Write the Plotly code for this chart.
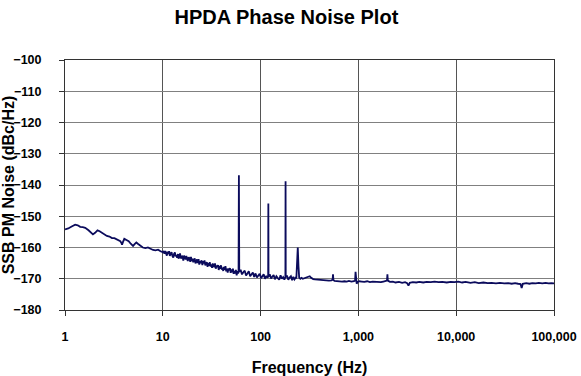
import plotly.graph_objects as go

# Frequency (Hz) and SSB phase noise (dBc/Hz)
freq_low = [1.0, 1.08, 1.17, 1.27, 1.35, 1.43, 1.52, 1.61, 1.74, 1.84, 1.93, 2.03, 2.15, 2.26,
            2.38, 2.52, 2.68, 2.85, 3.02, 3.2, 3.4, 3.55, 3.68, 3.78, 3.83, 3.92, 4.04, 4.25,
            4.48, 4.7, 4.96, 5.15, 5.36, 5.6, 5.89, 6.25, 6.64, 7.05, 7.49, 7.95, 8.42, 8.95,
            9.47, 10.0]
noise_low = [-154.2, -153.9, -153.3, -152.7, -152.9, -153.4, -153.5, -153.7, -154.5, -155.2,
             -155.8, -155.3, -154.5, -154.8, -155.2, -155.6, -156.3, -156.5, -157.0, -157.0,
             -157.4, -157.7, -158.0, -158.6, -159.1, -158.2, -157.2, -157.6, -158.0, -158.8,
             -159.5, -158.9, -158.4, -158.9, -159.5, -160.0, -160.2, -160.0, -160.4, -160.8,
             -160.9, -160.7, -161.2, -161.5]

freq_mid = [10.2, 10.4, 10.6, 10.8, 11.0, 11.2, 11.4, 11.6, 11.8, 12.0, 12.3, 12.5, 12.8, 13.0,
            13.3, 13.5, 13.8, 14.0, 14.3, 14.5, 14.8, 15.0, 15.3, 15.6, 15.9, 16.2, 16.5, 16.8,
            17.1, 17.4, 17.7, 18.0, 18.4, 18.7, 19.1, 19.4, 19.8, 20.1, 20.5, 20.8, 21.2, 21.6,
            22.0, 22.4, 22.8, 23.2, 23.6, 24.0, 24.5, 24.9, 25.4, 25.8, 26.3, 26.7, 27.2, 27.7,
            28.2, 28.7, 29.2, 29.7, 30.2, 30.8, 31.3, 31.9, 32.4, 33.0, 33.6, 34.2, 34.8, 35.4,
            36.0, 36.7, 37.3, 38.0, 38.7, 39.4, 40.1, 40.8, 41.5, 42.2, 43.0, 43.7, 44.5, 45.3,
            46.1, 46.9, 47.7, 48.6, 49.4, 50.3, 51.2, 52.1, 53.0, 54.0, 54.9, 55.9, 56.9, 57.9,
            58.9, 59.5]
noise_mid = [-161.1, -162.0, -161.1, -161.8, -162.6, -161.3, -162.1, -161.2, -162.7, -162.0,
             -161.5, -162.6, -163.2, -162.1, -161.6, -162.8, -162.4, -163.3, -162.1, -163.6,
             -162.5, -161.9, -163.5, -163.2, -162.6, -164.2, -162.6, -163.2, -163.8, -162.7,
             -163.7, -164.3, -163.1, -163.4, -164.6, -163.0, -164.3, -163.6, -164.7, -163.9,
             -163.5, -165.1, -164.4, -163.8, -165.0, -163.7, -165.5, -164.4, -165.0, -164.1,
             -165.6, -164.4, -165.1, -164.1, -165.7, -165.2, -164.7, -166.2, -165.0, -165.8,
             -164.7, -166.1, -165.4, -166.5, -165.1, -165.8, -166.3, -165.1, -166.8, -165.7,
             -166.3, -165.6, -167.2, -165.9, -166.8, -165.7, -167.1, -166.5, -167.5, -166.2,
             -167.1, -166.0, -167.6, -166.8, -168.0, -166.7, -167.3, -166.6, -168.1, -167.0,
             -167.9, -166.8, -168.4, -167.5, -168.3, -167.2, -168.9, -167.6, -168.3, -167.8]

freq_spur = [60.0, 60.5, 62.5, 64.5, 66.6, 68.8, 71.0, 73.3, 75.7, 78.2, 80.7, 83.3, 86.0, 88.8,
             91.7, 94.7, 97.8, 101, 104, 107.5, 111, 114.5, 118, 119.5, 120, 120.5, 124, 128,
             132, 136, 140, 145, 150, 155, 160, 165, 170, 175, 179.3, 180, 180.7, 186, 192,
             198, 204, 210, 216, 222, 228, 232, 236, 240, 244, 248, 255, 262, 270, 280, 290,
             300, 310, 318, 326, 335, 345, 360, 380, 400, 420, 445, 470, 500, 530, 545, 550,
             555, 570, 600, 640, 680, 720, 760, 800, 850, 900, 925, 935, 945, 960, 980]
noise_spur = [-136.9, -167.8, -167.1, -168.6, -167.9, -167.4, -169.0, -168.2, -167.6, -169.2,
              -168.5, -168.0, -169.4, -168.3, -169.6, -168.9, -168.4, -169.8, -169.0, -168.6,
              -170.0, -169.1, -169.7, -169.2, -145.9, -169.3, -168.6, -169.9, -169.3, -168.8,
              -170.2, -169.2, -169.8, -170.3, -168.9, -170.0, -169.5, -170.3, -169.4, -138.8,
              -169.5, -169.0, -170.3, -169.6, -169.2, -170.5, -169.4, -170.2, -169.7, -169.9,
              -166.0, -160.0, -166.0, -169.6, -170.0, -169.7, -170.0, -169.8, -169.7, -169.6,
              -169.3, -169.2, -169.6, -170.0, -170.1, -170.2, -170.3, -170.4, -170.3, -170.5,
              -170.6, -170.6, -170.5, -170.3, -168.6, -170.4, -170.7, -170.8, -170.8, -170.9,
              -170.8, -170.9, -170.7, -170.9, -170.8, -170.6, -167.8, -170.5, -171.6, -171.0]

freq_high = [1020, 1080, 1150, 1230, 1310, 1400, 1500, 1600, 1700, 1800, 1900, 1960, 1980, 2000,
             2100, 2250, 2400, 2600, 2800, 3000, 3150, 3250, 3350, 3600, 3900, 4200, 4600, 5000,
             5500, 6000, 6600, 7200, 8000, 8800, 9600, 10500, 11500, 12500, 14000, 15500, 17000,
             19000, 21000, 23000, 25500, 28000, 31000, 34000, 37000, 40000, 43000, 45500, 46700,
             48000, 52000, 56000, 60000, 65000, 70000, 76000, 82000, 88000, 94000, 100000]
noise_high = [-170.8, -170.9, -171.0, -170.8, -171.1, -170.9, -171.0, -170.9, -171.1, -170.9,
              -170.7, -170.6, -168.6, -170.6, -171.0, -170.9, -171.2, -171.0, -171.3, -171.1,
              -171.4, -172.2, -171.3, -171.1, -171.2, -171.0, -171.2, -171.0, -171.1, -170.9,
              -171.1, -171.0, -171.2, -171.0, -171.1, -170.9, -171.2, -171.0, -171.3, -171.1,
              -171.4, -171.2, -171.4, -171.3, -171.5, -171.3, -171.5, -171.4, -171.6, -171.4,
              -171.6, -171.7, -173.0, -171.6, -171.4, -171.6, -171.4, -171.5, -171.3, -171.5,
              -171.3, -171.5, -171.4, -171.5]

x_tick_vals = [1, 10, 100, 1000, 10000, 100000]
x_tick_text = ["1", "10", "100", "1,000", "10,000", "100,000"]
y_tick_vals = [-180, -170, -160, -150, -140, -130, -120, -110, -100]

freq = freq_low + freq_mid + freq_spur + freq_high
noise = noise_low + noise_mid + noise_spur + noise_high

FONT = "Liberation Sans, Arial, sans-serif"

fig = go.Figure()
fig.add_trace(go.Scatter(
    x=freq, y=noise, mode="lines",
    line=dict(color="#0b0b5c", width=1.8),
    hoverinfo="x+y", showlegend=False,
))

fig.update_layout(
    width=581, height=376,
    margin=dict(l=65, r=27, t=60, b=66),
    paper_bgcolor="white", plot_bgcolor="white",
    font=dict(family=FONT, color="black"),
    title=dict(text="<b>HPDA Phase Noise Plot</b>", x=0.493, xanchor="center",
               y=0.955, yanchor="middle", font=dict(size=20, family=FONT, color="black")),
    xaxis=dict(
        type="log", range=[0, 5], automargin=False,
        tickmode="array", tickvals=x_tick_vals, ticktext=x_tick_text,
        ticks="outside", ticklen=5, tickcolor="#333", ticklabelstandoff=10,
        showgrid=True, gridcolor="#555", gridwidth=1,
        showline=True, linecolor="#333", linewidth=1, mirror=True,
        tickfont=dict(size=12.5, family=FONT, color="black", weight="bold"),
        title=dict(text="<b>Frequency (Hz)</b>", font=dict(size=16, family=FONT), standoff=18),
        zeroline=False,
    ),
    yaxis=dict(
        range=[-180, -100], automargin=False,
        tickmode="array", tickvals=y_tick_vals,
        ticks="outside", ticklen=5, tickcolor="#333", ticklabelstandoff=15,
        showgrid=True, gridcolor="#808080", gridwidth=1,
        showline=True, linecolor="#333", linewidth=1, mirror=True,
        tickfont=dict(size=12.5, family=FONT, color="black", weight="bold"),
        title=dict(text="<b>SSB PM Noise (dBc/Hz)</b>", font=dict(size=16, family=FONT), standoff=1),
        zeroline=False,
    ),
)

fig.write_html("out.html", config={"displayModeBar": False},
               post_script="document.body.style.margin='0';")
